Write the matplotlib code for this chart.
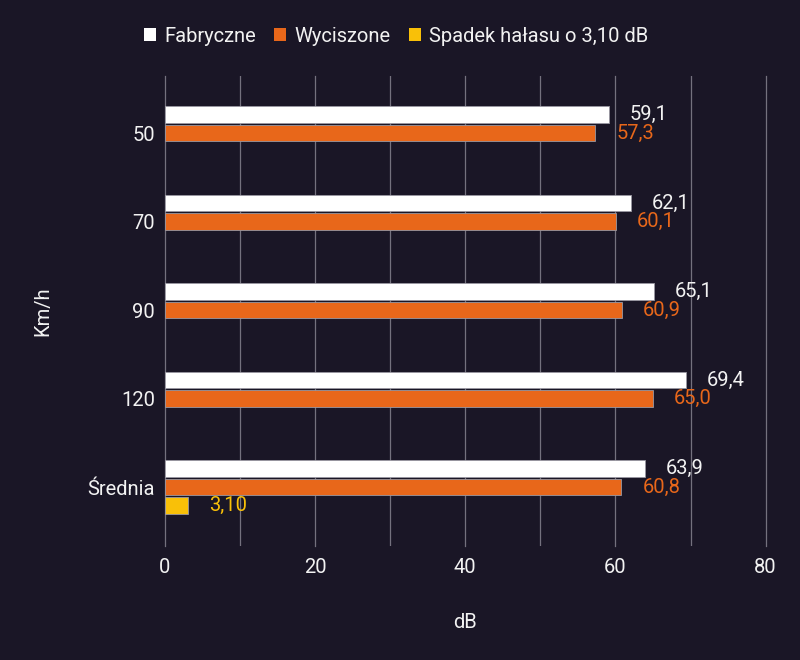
"""Poziom hałasu: fabryczne vs wyciszone, poziome słupki."""

import matplotlib
matplotlib.use("Agg")
import matplotlib.pyplot as plt
import numpy as np

BG = "#1a1626"
GRID = "#74717e"
TEXT = "#f2f2f2"
WHITE = "#ffffff"
ORANGE = "#e8671a"
YELLOW = "#f9c008"
FS = 14.5

categories = ["50", "70", "90", "120", "Średnia"]
fabryczne = [59.1, 62.1, 65.1, 69.4, 63.9]
wyciszone = [57.3, 60.1, 60.9, 65.0, 60.8]
spadek = [None, None, None, None, 3.10]

series_names = ["Fabryczne", "Wyciszone", "Spadek hałasu o 3,10 dB"]
x_ticks = [0, 20, 40, 60, 80]

plt.rcParams["font.family"] = ["Roboto", "DejaVu Sans"]

fig = plt.figure(figsize=(8, 6.6), dpi=100, facecolor=BG)
ax = fig.add_axes([0.206, 0.1727, 0.751, 0.712], facecolor=BG)

y = np.arange(len(categories))
slot = 0.209
height = 0.19

series = [
    (fabryczne, WHITE, "{:.1f}"),
    (wyciszone, ORANGE, "{:.1f}"),
    (spadek, YELLOW, "{:.2f}"),
]

for i, (vals, color, fmt) in enumerate(series):
    offset = (i - 1) * slot
    ys = [yy + offset for yy, v in zip(y, vals) if v is not None]
    vs = [v for v in vals if v is not None]
    ax.barh(ys, vs, height=height, color=color, edgecolor="#9a98a2",
            linewidth=0.6, label=series_names[i], zorder=3)
    for yy, v in zip(ys, vs):
        ax.annotate(fmt.format(v).replace(".", ","), xy=(v, yy),
                    xytext=(21, 0), textcoords="offset pixels",
                    va="center", ha="left", fontsize=FS,
                    color=TEXT if color == WHITE else color, zorder=4)

ax.set_xlim(0, 80)
ax.set_ylim(len(categories) - 1 + 0.667, -0.644)
ax.set_xticks(x_ticks)
ax.set_xticks(np.arange(10, 80, 20), minor=True)
ax.set_yticks(y)
ax.set_yticklabels(categories)

ax.grid(axis="x", which="both", color=GRID, linewidth=0.9, zorder=0)
for gl in ax.get_xgridlines() + ax.xaxis.get_minorticklines():
    gl.set_clip_on(False)
ax.tick_params(axis="both", which="both", length=0, colors=TEXT, labelsize=FS)
ax.tick_params(axis="x", pad=8.5)
ax.tick_params(axis="y", pad=7)
for side in ax.spines.values():
    side.set_visible(False)

ax.set_xlabel("dB", color=TEXT, fontsize=FS, labelpad=26)
ax.set_ylabel("Km/h", color=TEXT, fontsize=FS, labelpad=25)

leg = fig.legend(loc="center", bbox_to_anchor=(0.495, 1 - 36 / 660), ncol=3,
                 frameon=False, fontsize=FS, handlelength=0.6, handleheight=0.6,
                 handletextpad=0.4, columnspacing=0.9, labelcolor=TEXT)
for h in leg.legend_handles:
    h.set_edgecolor("none")

fig.savefig("out.png", dpi=100, facecolor=BG)
